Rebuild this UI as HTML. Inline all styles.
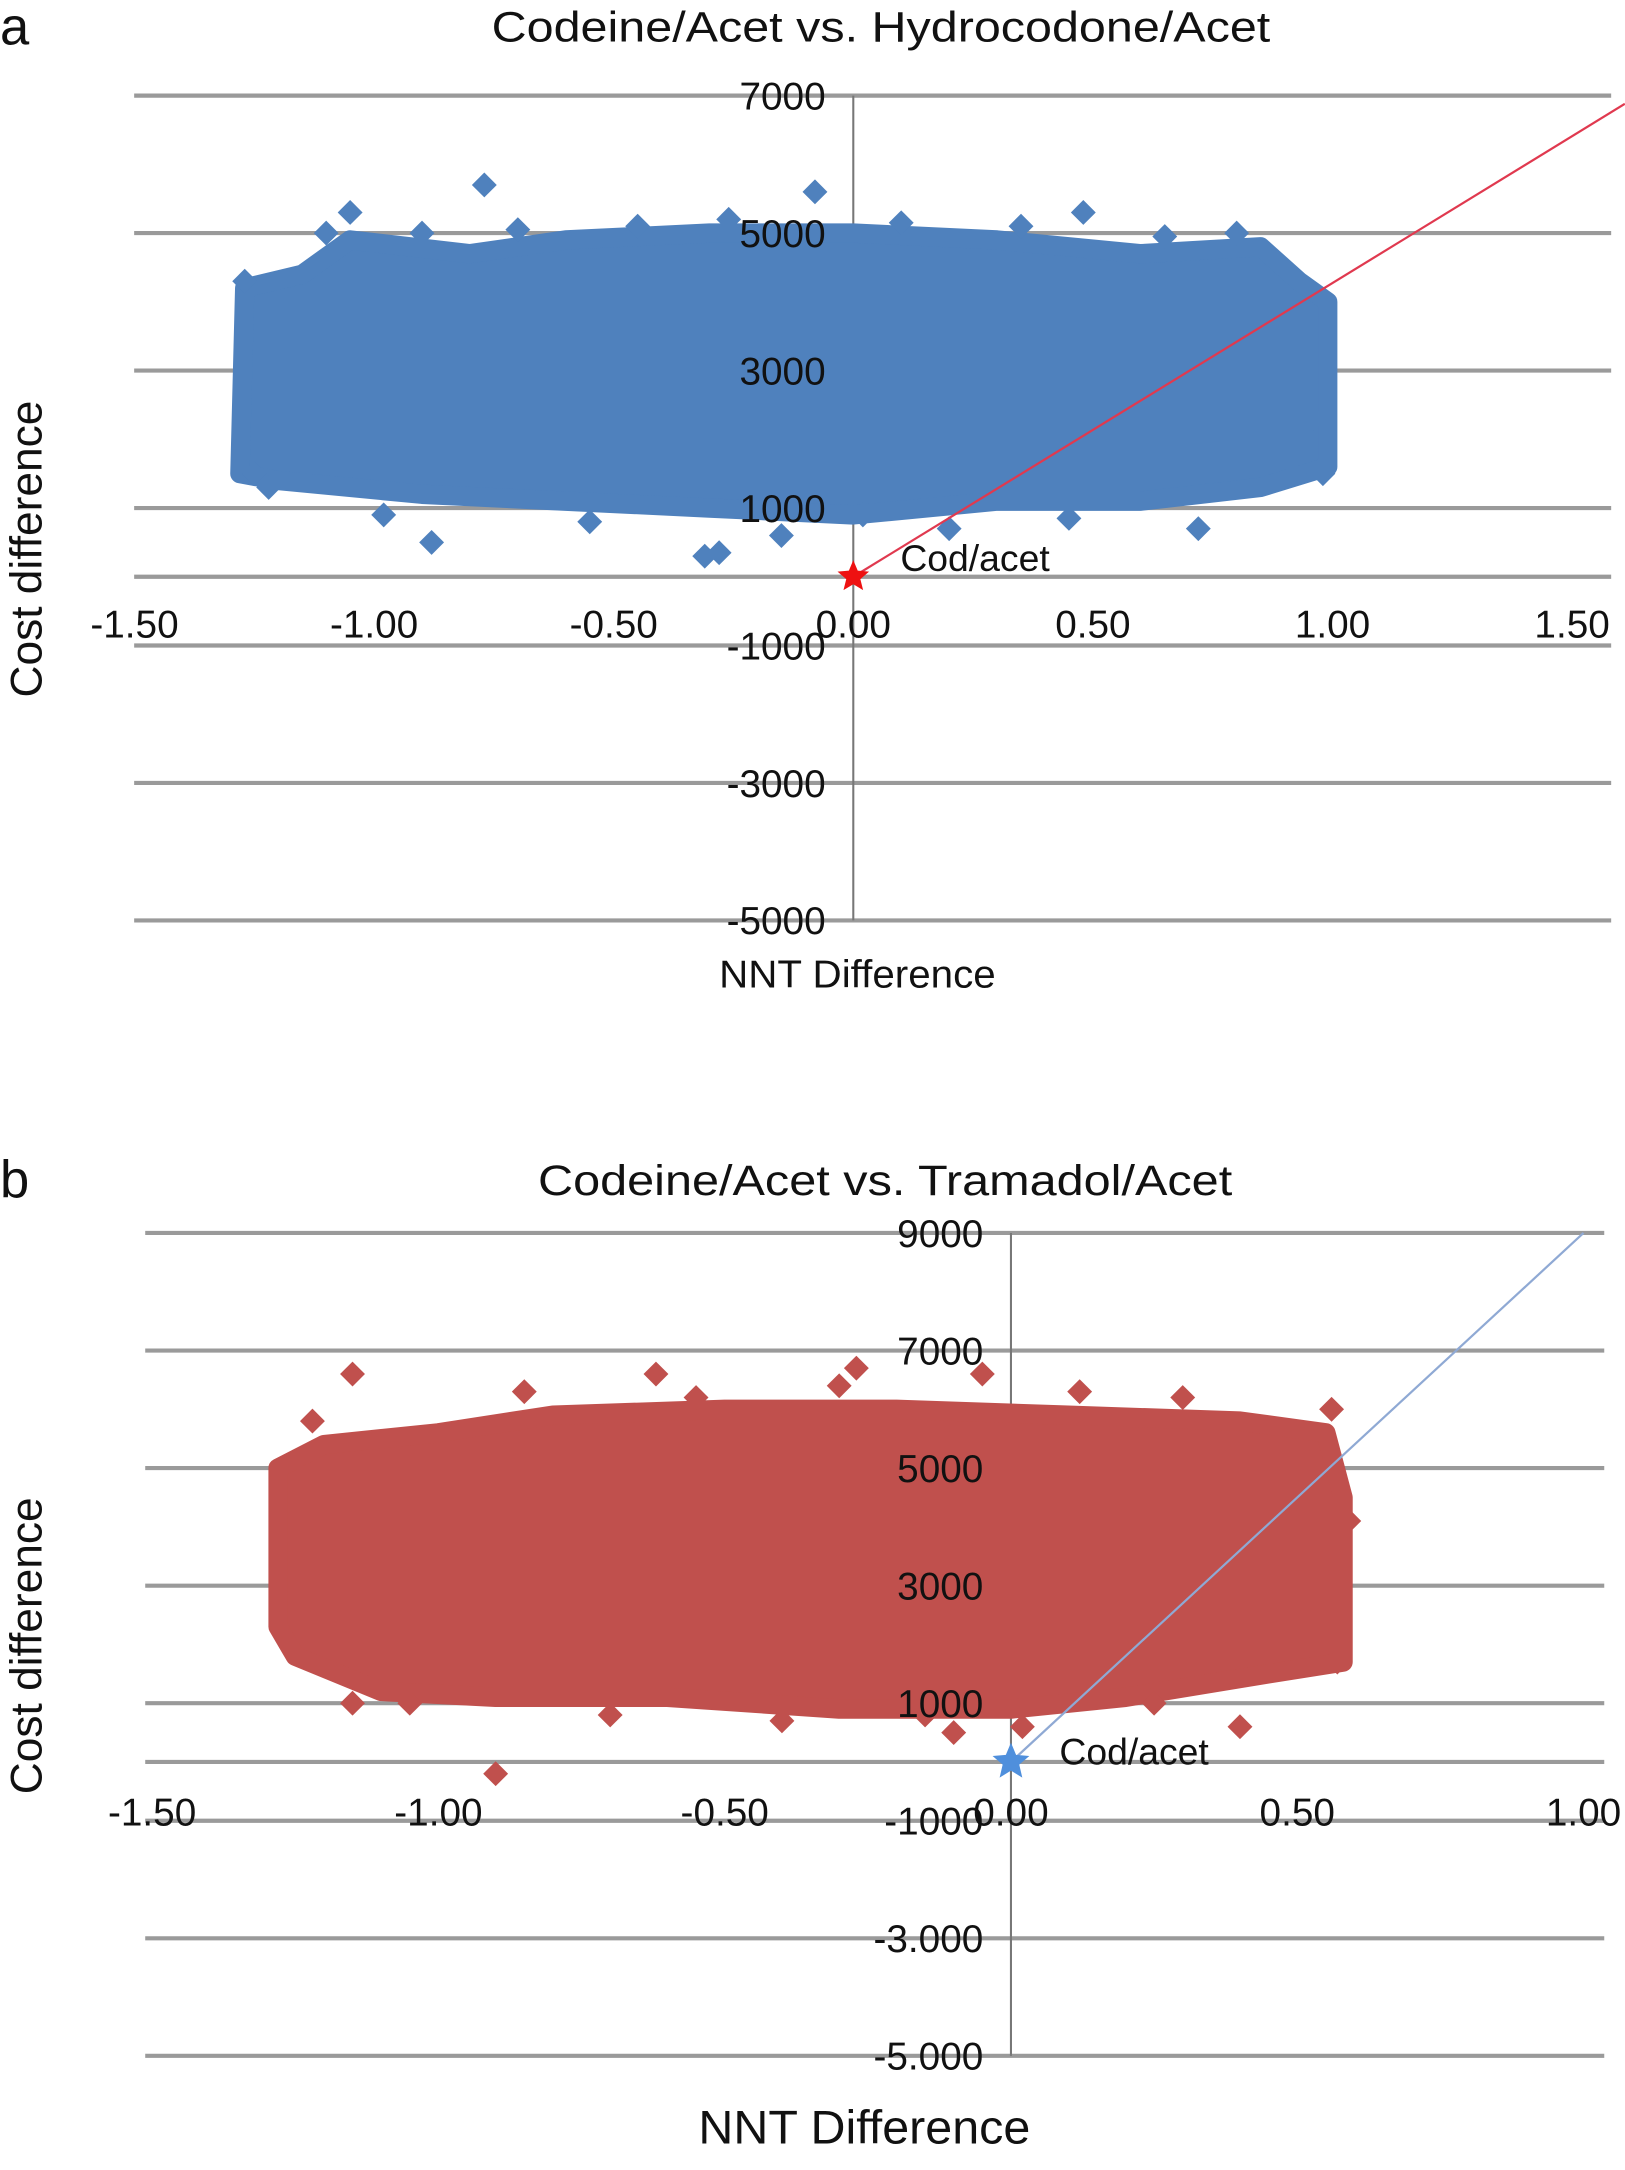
<!DOCTYPE html>
<html><head><meta charset="utf-8"><style>
html,body{margin:0;padding:0;background:#fff;}
svg{display:block;font-family:"Liberation Sans",sans-serif;}
</style></head><body>
<svg id="fig" width="1625" height="2170" viewBox="0 0 1175 1569" xmlns="http://www.w3.org/2000/svg">
<g id="ga"></g>
<g id="gb"></g>
</svg>
<script>
// ---- Panel a data ----
const aYTicks = [7000, 5000, 3000, 1000, -1000, -3000, -5000];
const aYTickLabels = ["7000", "5000", "3000", "1000", "-1000", "-3000", "-5000"];
const aXTicks = [-1.5, -1.0, -0.5, 0, 0.5, 1.0, 1.5];
const aXTickLabels = ["-1.50", "-1.00", "-0.50", "0.00", "0.50", "1.00", "1.50"];
const aCloudX = [-1.28,-1.27,-1.15,-1.05,-0.8,-0.6,-0.3,0,0.3,0.6,0.85,0.93,0.99,0.99,0.85,0.6,0.3,0,-0.3,-0.6,-0.9,-1.2];
const aCloudY = [1500,4200,4400,4900,4700,4900,5000,5000,4900,4700,4800,4300,4000,1600,1300,1100,1100,900,1000,1100,1200,1400];
const aOutX = [-0.77,-0.08,0.48,-1.05,-0.26,0.8,-0.9,-1.27,-0.98,-0.88,-0.31,-0.28,0.72,0.98,0.92,-1.25,0.2,0.02,-0.15,-1.1,-0.7,-0.45,0.35,0.65,0.1,-0.55,0.45,-1.22,0.96];
const aOutY = [5700,5600,5300,5300,5200,5000,5000,4300,900,500,300,350,700,1500,1500,1500,700,900,600,5000,5050,5100,5100,4950,5150,800,850,1300,2300];
const aLineX = [0, 1.61];
const aLineY = [0, 6880];

// ---- Panel b data ----
const bYTicks = [9000, 7000, 5000, 3000, 1000, -1000, -3000, -5000];
const bYTickLabels = ["9000", "7000", "5000", "3000", "1000", "-1000", "-3.000", "-5.000"];
const bXTicks = [-1.5, -1.0, -0.5, 0, 0.5, 1.0];
const bXTickLabels = ["-1.50", "-1.00", "-0.50", "0.00", "0.50", "1.00"];
const bCloudX = [-1.28,-1.28,-1.2,-1.0,-0.8,-0.5,-0.2,0.1,0.4,0.55,0.58,0.58,0.45,0.2,0,-0.3,-0.6,-0.9,-1.1,-1.25];
const bCloudY = [2300,5000,5400,5600,5900,6000,6000,5900,5800,5600,4500,1700,1500,1100,900,900,1100,1100,1200,1800];
const bOutX = [-1.15,-0.62,-0.27,-0.05,0.56,-0.9,-0.4,0.4,-0.15,-0.1,0.02,-1.15,-1.05,0.57,0.59,-0.85,-0.55,-0.3,0.12,0.3,-1.22,-0.7,0.25];
const bOutY = [6600,6600,6700,6600,6000,-200,700,600,800,500,600,1000,1000,1700,4100,6300,6200,6400,6300,6200,5800,800,1000];
const bLineX = [0, 1.0];
const bLineY = [0, 9000];

const NS = "http://www.w3.org/2000/svg";
function mk(parent, tag, attrs, text) {
  const e = document.createElementNS(NS, tag);
  for (const k in attrs) e.setAttribute(k, attrs[k]);
  if (text !== undefined) e.textContent = text;
  parent.appendChild(e);
  return e;
}
function diamond(cx, cy, r) {
  return `${cx},${cy-r} ${cx+r},${cy} ${cx},${cy+r} ${cx-r},${cy}`;
}
function star(cx, cy, R, r) {
  let p = [];
  for (let i = 0; i < 10; i++) {
    const a = -Math.PI/2 + i*Math.PI/5, rr = i%2 ? r : R;
    p.push((cx+rr*Math.cos(a)).toFixed(1)+","+(cy+rr*Math.sin(a)).toFixed(1));
  }
  return p.join(" ");
}

function panel(g, o) {
  const X = v => o.x0 + v*o.xs;
  const Y = v => o.y0 - v*o.ys;
  o.yTicks.forEach((t, i) => {
    const l = mk(g, "line", {x1:o.gl, x2:o.gr, y1:Y(t), y2:Y(t), stroke:"#9a9a9a", "stroke-width":3});
    
    
  });
  const xa = mk(g, "line", {x1:o.gl, x2:o.gr, y1:Y(0), y2:Y(0), stroke:"#9a9a9a", "stroke-width":3});
  
  
  const ya = mk(g, "line", {x1:X(0), x2:X(0), y1:Y(o.yTicks[0]), y2:Y(o.yTicks[o.yTicks.length-1]), stroke:"#777", "stroke-width":1.5});
  
  
  const pts = o.cx.map((v, i) => X(v)+","+Y(o.cy[i])).join(" ");
  const cl = mk(g, "polygon", {points:pts, fill:o.color, stroke:o.color, "stroke-width":14, "stroke-linejoin":"round"});
  
  
  o.ox.forEach((v, i) => {
    const d = mk(g, "polygon", {points:diamond(X(v), Y(o.oy[i]), 9), fill:o.color});
    
    
  });
  const ln = mk(g, "line", {x1:X(o.lx[0]), y1:Y(o.ly[0]), x2:X(o.lx[1]), y2:Y(o.ly[1]), stroke:o.lineColor, "stroke-width":1.6});
  
  
  const st = mk(g, "polygon", {points:star(X(0), Y(0), o.starR, o.starR*0.45), fill:o.starColor});
  
  
  const sl = mk(g, "text", {x:X(0)+o.lblDx, y:Y(0)+o.lblDy, "font-size":27, fill:"#111"}, "Cod/acet");
  
  
  o.yTicks.forEach((t, i) => {
    const tx = mk(g, "text", {x:X(0)-20, y:Y(t)+10, "font-size":28, "text-anchor":"end", fill:"#111"}, o.yLabels[i]);
    
    
  });
  o.xTicks.forEach((t, i) => {
    const tx = mk(g, "text", {x:X(t), y:Y(0)+o.xlDy, "font-size":28, "text-anchor":"middle", fill:"#111"}, o.xLabels[i]);
    
    
  });
  const ti = mk(g, "text", {x:o.titleX, y:o.titleY, "font-size":31, "text-anchor":"middle", textLength:o.titleW, lengthAdjust:"spacingAndGlyphs", fill:"#111"}, o.title);
  
  
  const pl = mk(g, "text", {x:0, y:o.titleY+2, "font-size":38, fill:"#111"}, o.letter);
  
  
  const yt = mk(g, "text", {x:0, y:0, "font-size":32, "text-anchor":"middle", transform:`translate(30,${o.ytY}) rotate(-90)`, fill:"#111"}, "Cost difference");
  
  
  const xt = mk(g, "text", {x:o.xtX, y:o.xtY, "font-size":o.xtS, "text-anchor":"middle", textLength:o.xtW, lengthAdjust:"spacingAndGlyphs", fill:"#111"}, "NNT Difference");
  
  
}

panel(document.getElementById("ga"), {
  x0:617, xs:346.5, y0:417, ys:0.0497, gl:97, gr:1165,
  yTicks:aYTicks, yLabels:aYTickLabels, xTicks:aXTicks, xLabels:aXTickLabels,
  cx:aCloudX, cy:aCloudY, ox:aOutX, oy:aOutY, lx:aLineX, ly:aLineY,
  color:"#4f81bd", lineColor:"#e0394f", starColor:"#ee1111", starR:12,
  lblDx:34, lblDy:-4, xlDy:44,
  title:"Codeine/Acet vs. Hydrocodone/Acet", titleX:637, titleY:30, titleW:563,
  letter:"a", ytY:397, xtX:620, xtY:714, xtS:28, xtW:200
});
panel(document.getElementById("gb"), {
  x0:731, xs:414, y0:1274, ys:0.0425, gl:105, gr:1160,
  yTicks:bYTicks, yLabels:bYTickLabels, xTicks:bXTicks, xLabels:bXTickLabels,
  cx:bCloudX, cy:bCloudY, ox:bOutX, oy:bOutY, lx:bLineX, ly:bLineY,
  color:"#c0504d", lineColor:"#8fa9d4", starColor:"#4f8fdc", starR:14,
  lblDx:35, lblDy:2, xlDy:46,
  title:"Codeine/Acet vs. Tramadol/Acet", titleX:640, titleY:864, titleW:502,
  letter:"b", ytY:1190, xtX:625, xtY:1550, xtS:34, xtW:240
});
</script>
</body></html>
